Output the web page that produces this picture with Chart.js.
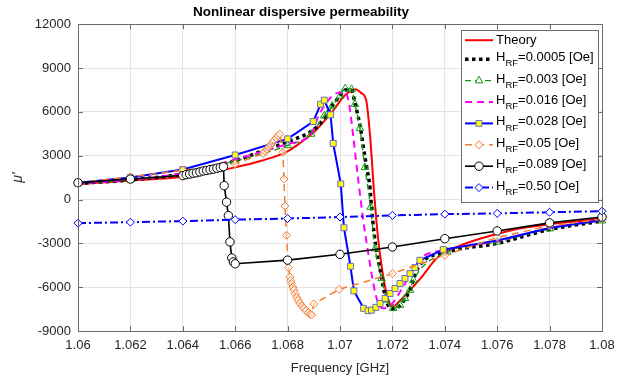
<!DOCTYPE html>
<html>
<head>
<meta charset="utf-8">
<script src="https://cdn.jsdelivr.net/npm/chart.js@4.4.0/dist/chart.umd.min.js"></script>
<style>html,body{margin:0;padding:0;background:#fff}</style>
</head>
<body>
<canvas id="chart" width="618" height="380"></canvas>
<script>
// values (frequency in GHz, mu')
const theoryF = [1.060,1.062,1.064,1.066,1.067,1.068,1.0685,1.069,1.0697,1.0702,1.0706,1.0708,1.0710,1.07115,1.0713,1.07145,1.0716,1.0718,1.0720,1.0723,1.0728,1.0731,1.0737,1.0746,1.0758,1.0768,1.0780,1.0790,1.0800];
const theoryMu = [1050,1300,1550,2200,2650,3300,3900,4600,6000,7150,7550,7300,6800,4300,500,-2600,-4700,-6600,-7350,-6900,-5950,-5350,-4000,-3150,-2450,-2000,-1700,-1500,-1300];

const h0005F = [1.060,1.062,1.064,1.066,1.067,1.068,1.069,1.0695,1.0697,1.0700,1.0702,1.07044,1.07057,1.07079,1.07089,1.07102,1.07115,1.0712,1.0713,1.0714,1.07153,1.07165,1.07176,1.07189,1.0720,1.0723,1.07248,1.07267,1.0728,1.0730,1.0741,1.0760,1.0780,1.0800];
const h0005Mu = [1100,1350,1750,2650,3300,3950,4800,5800,6400,7100,7500,7500,6600,4800,3600,2200,700,-500,-2300,-3600,-4800,-6000,-6900,-7400,-7500,-7250,-6800,-6200,-5500,-4600,-3600,-3000,-2050,-1480];

const h003F = [1.060,1.062,1.064,1.066,1.068,1.0689,1.0694,1.06955,1.0697,1.0700,1.0702,1.07044,1.07057,1.07076,1.07095,1.07117,1.07134,1.07159,1.07178,1.07203,1.07229,1.07248,1.07267,1.0728,1.0741,1.076,1.078,1.080];
const h003Mu = [1100,1350,1750,2650,3700,4480,5730,5950,6400,7090,7600,7550,6520,4880,2200,-520,-3360,-5400,-6880,-7450,-7230,-6770,-6200,-5520,-3590,-2900,-2000,-1450];

const h016F = [1.060,1.062,1.064,1.066,1.068,1.0689,1.0692,1.0699,1.0702,1.07035,1.07051,1.0707,1.07089,1.07108,1.07127,1.07146,1.07165,1.0720,1.0723,1.0726,1.0729,1.0731,1.0740,1.0760,1.0780,1.0800];
const h016Mu = [1100,1350,1800,2750,3800,4500,5800,7300,7350,6500,4250,1300,-1430,-3700,-5750,-7110,-7450,-7100,-6300,-5400,-4500,-4000,-3450,-2850,-1950,-1420];

const h028F = [1.060,1.062,1.064,1.066,1.068,1.06898,1.06926,1.0694,1.06964,1.06974,1.07003,1.07015,1.0704,1.07053,1.0709,1.07107,1.0712,1.07137,1.07153,1.07172,1.07191,1.0721,1.07229,1.07248,1.07267,1.07286,1.07305,1.07394,1.076,1.078,1.080];
const h028Mu = [1150,1500,2050,3050,4150,5340,6520,6800,5800,3840,1070,-1930,-4570,-6250,-7450,-7610,-7570,-7380,-7110,-6770,-6430,-6090,-5750,-5400,-5070,-4660,-4160,-3430,-2800,-1950,-1400];

const h05F = [1.060,1.062,1.064,1.066,1.06707,1.06714,1.06721,1.06728,1.06735,1.06742,1.06749,1.06756,1.06763,1.0677,1.06782,1.06786,1.0679,1.06796,1.06803,1.06809,1.06812,1.06815,1.0682,1.06824,1.06829,1.06834,1.0684,1.06847,1.06855,1.06863,1.06871,1.06879,1.06886,1.06892,1.0690,1.06997,1.072,1.074,1.076,1.078,1.080];
const h05Mu = [1150,1550,2000,2430,3150,3300,3420,3600,3720,3900,4050,4200,4350,4480,3230,1410,-450,-2450,-4660,-5300,-5550,-5750,-6000,-6200,-6450,-6700,-6900,-7100,-7300,-7450,-7600,-7750,-7850,-7900,-7150,-6150,-5070,-3820,-2600,-1800,-1350];

const h089F = [1.060,1.062,1.0640,1.06413,1.06426,1.06439,1.06452,1.06465,1.06478,1.06491,1.06504,1.06517,1.0653,1.06543,1.06555,1.06558,1.06567,1.06574,1.0658,1.06587,1.06593,1.066,1.068,1.070,1.072,1.074,1.076,1.078,1.080];
const h089Mu = [1150,1400,1640,1700,1740,1800,1830,1890,1950,1990,2040,2080,2140,2190,2250,950,-180,-1100,-2900,-4000,-4270,-4400,-4150,-3750,-3250,-2680,-2150,-1600,-1200];

const h50F = [1.060,1.062,1.064,1.066,1.068,1.070,1.072,1.074,1.076,1.078,1.080];
const h50Mu = [-1620,-1550,-1480,-1380,-1300,-1200,-1090,-1000,-950,-870,-800];

const fieldLabels = ['0.0005','0.003','0.016','0.028','0.05','0.089','0.50'];
const xTicks = [1.06,1.062,1.064,1.066,1.068,1.07,1.072,1.074,1.076,1.078,1.08];

const pts = (fs, ms) => fs.map((f, i) => ({x: f, y: ms[i]}));
const FONT = '"Liberation Sans", Arial, sans-serif';

const datasets = [
  {data: pts(theoryF, theoryMu), borderColor: '#ff0000', borderWidth: 2, pointRadius: 0, cubicInterpolationMode: 'monotone'},
  {data: pts(h0005F, h0005Mu), borderColor: '#000000', borderWidth: 3.5, borderDash: [3.5, 3.5], pointRadius: 0, cubicInterpolationMode: 'monotone'},
  {data: pts(h003F, h003Mu), borderColor: '#129a12', borderWidth: 1.4, borderDash: [6, 4], pointStyle: 'triangle', pointRadius: 4.4,
    pointBorderColor: '#129a12', pointBackgroundColor: 'rgba(255,255,255,0)', pointBorderWidth: 1, cubicInterpolationMode: 'monotone'},
  {data: pts(h016F, h016Mu), borderColor: '#ff00ff', borderWidth: 2, borderDash: [7, 5], pointRadius: 0, cubicInterpolationMode: 'monotone'},
  {data: pts(h028F, h028Mu), borderColor: '#0000ff', borderWidth: 2, pointStyle: 'rect', pointRadius: h028F.map((f, i) => i >= h028F.length - 3 ? 0 : 4.2),
    pointBorderColor: '#6a6ad0', pointBackgroundColor: '#ffff00', pointBorderWidth: 1},
  {data: pts(h05F, h05Mu), borderColor: '#f57a2c', borderWidth: 1.5, borderDash: [7, 5], pointStyle: 'rectRot', pointRadius: 4,
    pointBorderColor: '#f57a2c', pointBackgroundColor: 'rgba(255,255,255,0.5)', pointBorderWidth: 1},
  {data: pts(h089F, h089Mu), borderColor: '#000000', borderWidth: 1.6, pointStyle: 'circle', pointRadius: 4.2,
    pointBorderColor: '#000000', pointBackgroundColor: '#ffffff', pointBorderWidth: 1},
  {data: pts(h50F, h50Mu), borderColor: '#0000ff', borderWidth: 2, borderDash: [8, 3, 2, 3], pointStyle: 'rectRot', pointRadius: 4,
    pointBorderColor: '#0000ff', pointBackgroundColor: '#ffffff', pointBorderWidth: 1}
];
datasets.forEach((d, i) => { d.order = datasets.length - i; d.clip = false; d.fill = false; d.label = i ? 'H_RF=' + fieldLabels[i - 1] + ' [Oe]' : 'Theory'; });

// box with inward ticks, like the original axes
const framePlugin = {
  id: 'frame',
  afterDatasetsDraw(chart) {
    const {ctx, chartArea: a, scales: {x, y}} = chart;
    ctx.save();
    ctx.strokeStyle = '#6b6b6b';
    ctx.lineWidth = 1;
    ctx.strokeRect(Math.round(a.left) + 0.5, Math.round(a.top) + 0.5, Math.round(a.right - a.left), Math.round(a.bottom - a.top));
    ctx.beginPath();
    xTicks.forEach(v => {
      const px = Math.round(x.getPixelForValue(v)) + 0.5;
      ctx.moveTo(px, a.bottom); ctx.lineTo(px, a.bottom - 5);
      ctx.moveTo(px, a.top); ctx.lineTo(px, a.top + 5);
    });
    for (let v = -9000; v <= 12000; v += 3000) {
      const py = Math.round(y.getPixelForValue(v)) + 0.5;
      ctx.moveTo(a.left, py); ctx.lineTo(a.left + 5, py);
      ctx.moveTo(a.right, py); ctx.lineTo(a.right - 5, py);
    }
    ctx.stroke();
    ctx.restore();
  }
};

// legend inside the plot, top right, with subscripts
const legendPlugin = {
  id: 'boxLegend',
  afterDraw(chart) {
    const {ctx, chartArea: a} = chart;
    const w = 137, h = 172;
    const x0 = a.right - w - 4, y0 = a.top + 6;
    ctx.save();
    ctx.fillStyle = '#ffffff';
    ctx.fillRect(x0, y0, w, h);
    ctx.strokeStyle = '#6b6b6b';
    ctx.lineWidth = 1;
    ctx.strokeRect(Math.round(x0) + 0.5, Math.round(y0) + 0.5, w, h);
    chart.data.datasets.forEach((d, i) => {
      const yy = i === 0 ? y0 + 10 : y0 + 29 + (i - 1) * 21.4;
      const lx0 = x0 + 4, lx1 = x0 + 32;
      ctx.save();
      ctx.strokeStyle = d.borderColor;
      ctx.lineWidth = d.borderWidth;
      ctx.setLineDash(d.borderDash || []);
      ctx.beginPath();
      ctx.moveTo(lx0, yy); ctx.lineTo(lx1, yy);
      ctx.stroke();
      ctx.setLineDash([]);
      const r = Array.isArray(d.pointRadius) ? d.pointRadius[5] : d.pointRadius;
      if (r) {
        ctx.strokeStyle = d.pointBorderColor;
        ctx.lineWidth = d.pointBorderWidth;
        ctx.fillStyle = d.pointBackgroundColor.startsWith('rgba') ? '#ffffff' : d.pointBackgroundColor;
        Chart.helpers.drawPoint(ctx, {pointStyle: d.pointStyle, radius: r, rotation: 0, borderWidth: d.pointBorderWidth}, (lx0 + lx1) / 2, yy);
      }
      ctx.restore();
      ctx.fillStyle = '#000000';
      ctx.textBaseline = 'middle';
      ctx.textAlign = 'left';
      let tx = x0 + 35;
      ctx.font = '13px ' + FONT;
      if (i === 0) {
        ctx.fillText('Theory', tx, yy);
      } else {
        ctx.fillText('H', tx, yy - 1.5);
        tx += ctx.measureText('H').width;
        ctx.font = '9.5px ' + FONT;
        ctx.fillText('RF', tx, yy + 4.5);
        tx += ctx.measureText('RF').width;
        ctx.font = '13px ' + FONT;
        ctx.fillText('=' + fieldLabels[i - 1] + ' [Oe]', tx, yy - 1.5);
      }
    });
    ctx.restore();
  }
};

new Chart(document.getElementById('chart').getContext('2d'), {
  type: 'line',
  data: {datasets: datasets},
  options: {
    responsive: false,
    animation: false,
    devicePixelRatio: 1,
    layout: {padding: {left: 0, right: 16, top: 0, bottom: 0}},
    plugins: {
      legend: {display: false},
      tooltip: {enabled: false},
      title: {
        display: true,
        text: 'Nonlinear dispersive permeability',
        color: '#000000',
        font: {family: FONT, size: 13.5, weight: 'bold'},
        padding: {top: 4, bottom: 4}
      }
    },
    scales: {
      x: {
        type: 'linear',
        min: 1.06, max: 1.08,
        afterBuildTicks: s => { s.ticks = xTicks.map(v => ({value: v})); },
        afterFit: s => { s.height = 49; s.paddingLeft = 0; s.paddingRight = 0; },
        grid: {color: '#e4e4e4', drawTicks: false},
        border: {display: false},
        ticks: {
          autoSkip: false, maxRotation: 0, padding: 7,
          color: '#262626', font: {family: FONT, size: 13},
          callback: v => String(+(+v).toFixed(3))
        },
        title: {display: true, text: 'Frequency [GHz]', color: '#262626', font: {family: FONT, size: 13}, padding: {top: 2, bottom: 4}}
      },
      y: {
        min: -9000, max: 12000,
        ticks: {stepSize: 3000, padding: 7, color: '#262626', font: {family: FONT, size: 13}, callback: v => String(v)},
        afterFit: s => { s.width = 78; },
        grid: {color: '#e4e4e4', drawTicks: false},
        border: {display: false},
        title: {display: true, text: "\u03bc'", color: '#262626', font: {family: FONT, size: 14, style: 'italic'}, padding: {top: 10, bottom: 4}}
      }
    }
  },
  plugins: [framePlugin, legendPlugin]
});
</script>
</body>
</html>
